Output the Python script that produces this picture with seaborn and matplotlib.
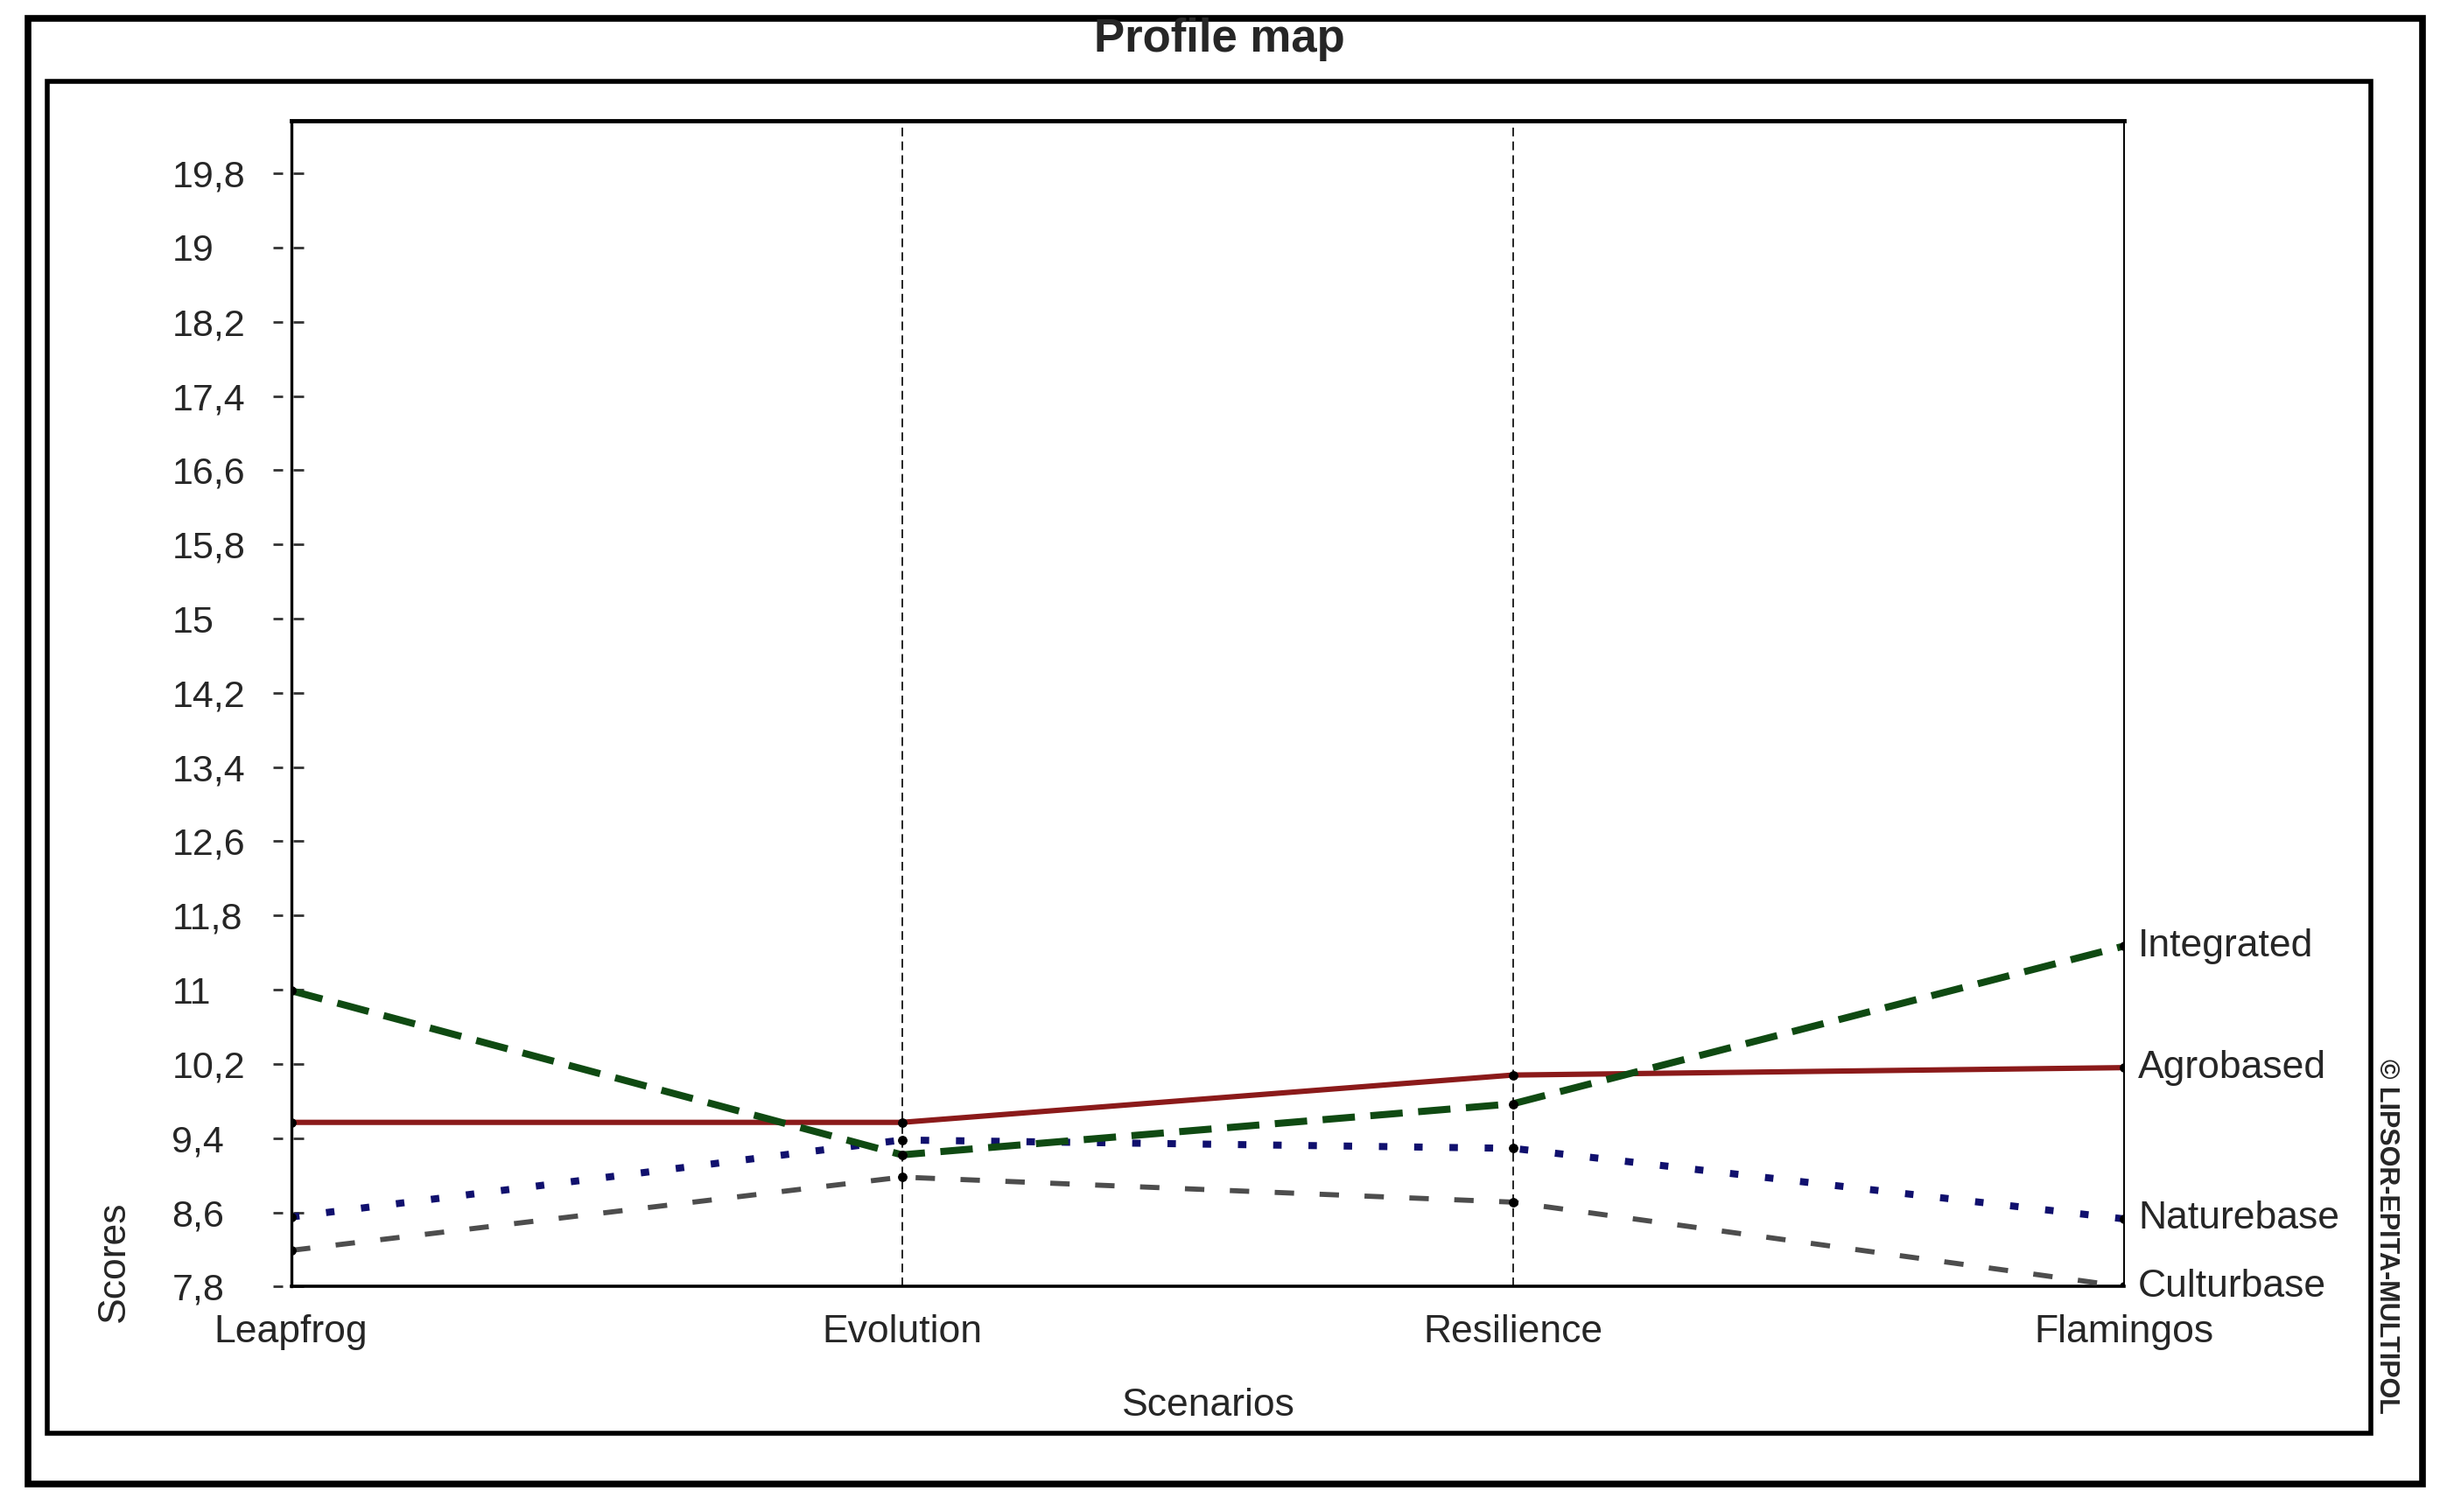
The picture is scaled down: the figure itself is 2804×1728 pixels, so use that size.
import matplotlib
matplotlib.use('Agg')
import matplotlib.pyplot as plt
import matplotlib.transforms as mtransforms
from matplotlib.patches import Rectangle
import seaborn as sns
import pandas as pd

# Datos del gráfico
scenarios = ['Leapfrog', 'Evolution', 'Resilience', 'Flamingos']
integrated = [10.99, 9.22, 9.77, 11.47]
agrobased = [9.57, 9.57, 10.08, 10.16]
naturebase = [8.55, 9.38, 9.29, 8.53]
culturbase = [8.19, 8.98, 8.71, 7.80]

yticks = [7.8, 8.6, 9.4, 10.2, 11.0, 11.8, 12.6, 13.4, 14.2, 15.0,
          15.8, 16.6, 17.4, 18.2, 19.0, 19.8]
ytick_labels = ['7,8', '8,6', '9,4', '10,2', '11', '11,8', '12,6', '13,4',
                '14,2', '15', '15,8', '16,6', '17,4', '18,2', '19', '19,8']

series = [
    ('Culturbase', culturbase, '#4d4d4d', 4.2, (0, (3.8, 5.0))),
    ('Naturebase', naturebase, '#10106e', 5.8, (0, (1.2, 3.8))),
    ('Agrobased', agrobased, '#8b1a1a', 4.4, '-'),
    ('Integrated', integrated, '#0f4a12', 5.8, (0, (4.6, 2.2))),
]

sns.set_style('white')
plt.rcParams['font.family'] = ['Liberation Sans', 'DejaVu Sans']

fig = plt.figure(figsize=(28.04, 17.28), dpi=100)
ax = fig.add_axes([0.1186, 0.1491, 0.7468, 0.7712])

pos = list(range(len(scenarios)))

# Líneas verticales en los escenarios intermedios
for p in pos[1:-1]:
    ax.axvline(p, color='black', lw=1.2, linestyle=(0, (6, 3.5)), zorder=1)

for name, vals, color, lw, ls in series:
    df = pd.DataFrame({'pos': pos, 'score': vals})
    sns.lineplot(data=df, x='pos', y='score', ax=ax, color=color, lw=lw,
                 linestyle=ls, marker='o', markersize=7,
                 markerfacecolor='black', markeredgecolor='black', zorder=3)
    ax.annotate(name, xy=(pos[-1], vals[-1]), xytext=(12, 0),
                textcoords='offset points', va='center', ha='left',
                fontsize=32, annotation_clip=False)

ax.set_xlim(pos[0], pos[-1])
ax.set_ylim(7.8, 20.37)

ax.set_xticks(pos)
ax.set_xticklabels(scenarios, fontsize=32)
ax.set_yticks(yticks)
ax.set_yticklabels(ytick_labels, fontsize=31, ha='left')
ax.tick_params(axis='y', length=0, pad=98)
ax.tick_params(axis='x', length=0, pad=23)
ax.set_xlabel('')
ax.set_ylabel('')

# Marcas de los ticks en Y (punteadas)
trans = mtransforms.blended_transform_factory(ax.transAxes, ax.transData)
for t in yticks:
    ax.plot([-0.0100, -0.0045], [t, t], transform=trans, color='#333333',
            lw=2, clip_on=False, solid_capstyle='butt')
    ax.plot([0.0011, 0.0067], [t, t], transform=trans, color='#333333',
            lw=2, clip_on=False, solid_capstyle='butt')

for side, w in [('left', 2.4), ('bottom', 2.6), ('top', 3.5), ('right', 1.4)]:
    ax.spines[side].set_visible(True)
    ax.spines[side].set_color('black')
    ax.spines[side].set_linewidth(w)

# Marcos exteriores
fig.add_artist(Rectangle((0.0115, 0.0186), 0.9757, 0.9690, transform=fig.transFigure,
                         fill=False, ec='black', lw=5.5))
fig.add_artist(Rectangle((0.0191, 0.0518), 0.9471, 0.8944, transform=fig.transFigure,
                         fill=False, ec='black', lw=4))

fig.text(0.4968, 0.974, 'Profile map', ha='center', va='center',
         fontsize=38, fontweight='bold')
fig.text(0.4923, 0.0704, 'Scenarios', ha='center', va='center', fontsize=32)
fig.text(0.0466, 0.1656, 'Scores', ha='center', va='center', fontsize=32,
         rotation=90)
fig.text(0.9726, 0.1821, '\u00a9 LIPSOR-EPITA-MULTIPOL', ha='center', va='center',
         fontsize=22, fontweight='bold', rotation=-90)

fig.savefig('out.png', dpi=100, facecolor='white')
